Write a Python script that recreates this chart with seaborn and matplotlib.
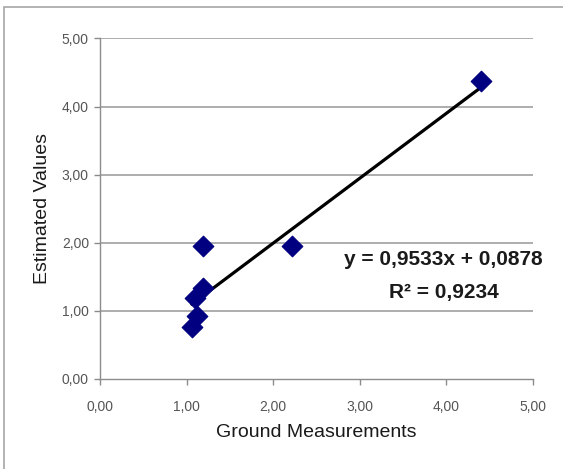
import numpy as np
import pandas as pd
import seaborn as sns
import matplotlib.pyplot as plt
from matplotlib.patches import Rectangle

# values
ground = [4.40, 1.19, 2.22, 1.19, 1.10, 1.12, 1.06]
estimated = [4.37, 1.95, 1.95, 1.33, 1.19, 0.92, 0.77]
slope = 0.9533
intercept = 0.0878
r2 = 0.9234
ticks = [0, 1, 2, 3, 4, 5]
tick_labels = ['0,00', '1,00', '2,00', '3,00', '4,00', '5,00']

df = pd.DataFrame({'Ground Measurements': ground, 'Estimated Values': estimated})

# trend line over the range of the data
trend = pd.DataFrame({'x': [min(ground), max(ground)]})
trend['y'] = slope * trend['x'] + intercept

sns.set_theme(style='white')
plt.rcParams['font.family'] = ['Liberation Sans', 'DejaVu Sans']

fig = plt.figure(figsize=(5.63, 4.69), dpi=100)
ax = fig.add_axes([0.1776, 0.1919, 0.9467 - 0.1776, 0.918 - 0.1919])

# grey frame round the chart area (only left/top fall inside the image)
frame_top = 1 - 7.5 / 469
fig.patches.append(Rectangle((3.5 / 563, -0.5), 1.5, frame_top + 0.5,
                             transform=fig.transFigure, fill=False,
                             edgecolor='#a6a6a6', linewidth=1.2))

sns.lineplot(data=trend, x='x', y='y', ax=ax, color='black', linewidth=2.3, zorder=2)
sns.scatterplot(data=df, x='Ground Measurements', y='Estimated Values', ax=ax,
                marker='D', s=110, color='#000080', edgecolor='#000080', zorder=3)

ax.set_xlim(0, 5)
ax.set_ylim(0, 5)
ax.set_xticks(ticks)
ax.set_xticklabels(tick_labels)
ax.set_yticks(ticks)
ax.set_yticklabels(tick_labels)

for v in ticks[1:]:
    ax.axhline(v, color='#a0a0a0', linewidth=1.2, zorder=1)

for side in ['top', 'right']:
    ax.spines[side].set_visible(False)
for side in ['left', 'bottom']:
    ax.spines[side].set_color('#8c8c8c')
    ax.spines[side].set_linewidth(1.0)

ax.tick_params(axis='both', which='both', length=4, width=1, color='#8c8c8c',
               labelsize=10, labelcolor='#555555', bottom=True, left=True)
ax.tick_params(axis='x', pad=11)
ax.tick_params(axis='y', pad=4)

ax.set_xlabel('Ground Measurements', fontsize=14, color='#1a1a1a', labelpad=7)
ax.set_ylabel('Estimated Values', fontsize=14, color='#1a1a1a', labelpad=8)

eq_x = 3.97
ax.text(eq_x, 1.75, f'y = {slope:.4f}x + {intercept:.4f}'.replace('.', ','),
        ha='center', va='center', fontsize=15, fontweight='bold', color='#1a1a1a')
ax.text(eq_x, 1.27, f'R² = {r2:.4f}'.replace('.', ','),
        ha='center', va='center', fontsize=15, fontweight='bold', color='#1a1a1a')

fig.savefig('out.png', dpi=100)
